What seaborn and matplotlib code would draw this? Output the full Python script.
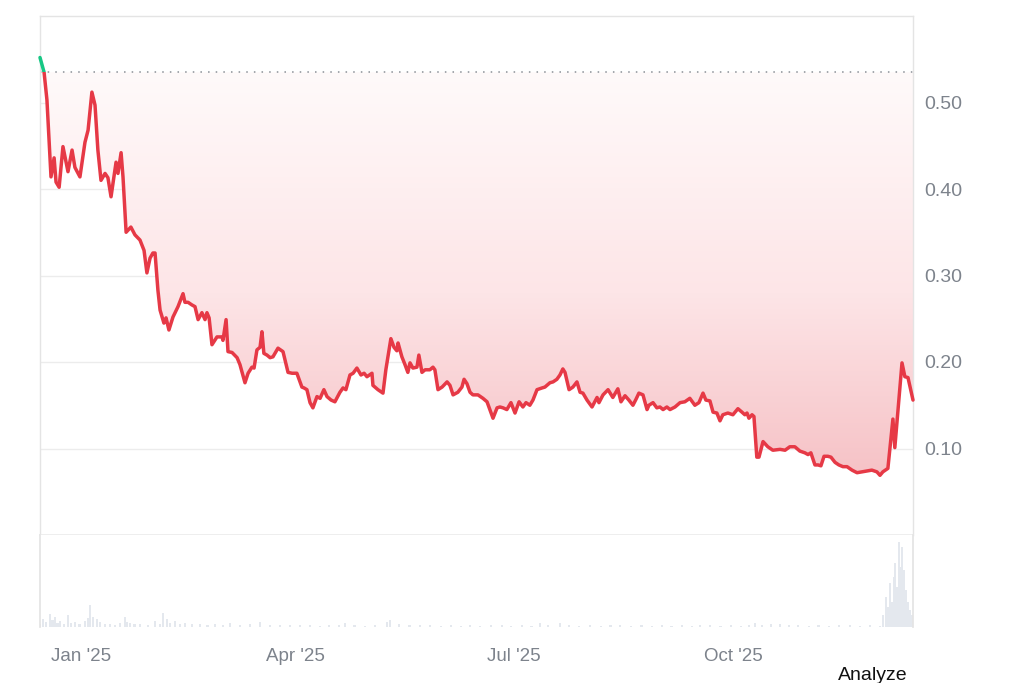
import numpy as np
import pandas as pd
import matplotlib
import matplotlib.pyplot as plt
import matplotlib.dates as mdates
from matplotlib.colors import LinearSegmentedColormap
from matplotlib.patches import Rectangle
import seaborn as sns

matplotlib.use('Agg')

# price line (days after 2024-12-15, USD)
day = [0.0, 1.7, 2.9, 4.6, 5.9, 6.7, 8.0, 9.6, 11.7, 13.4, 14.6, 16.7, 18.8, 20.1, 21.7, 23.0,
       24.2, 25.5, 27.2, 28.4, 29.7, 31.8, 32.6, 33.9, 34.7, 36.0, 38.0, 39.7, 41.8, 43.5, 44.7,
       46.0, 47.2, 48.1, 49.3, 50.2, 51.8, 52.7, 53.9, 55.6, 57.7, 59.8, 60.6, 61.9, 63.5, 64.8,
       66.1, 67.7, 69.0, 69.8, 70.7, 71.9, 74.0, 76.1, 76.5, 77.8, 78.6, 80.3, 82.4, 83.6, 85.7,
       87.0, 88.6, 89.5, 90.7, 92.0, 92.8, 93.6, 94.9, 96.2, 97.4, 99.5, 101.6, 103.7, 105.4,
       107.4, 109.5, 110.4, 111.6, 112.9, 114.1, 115.8, 117.1, 118.7, 120.0, 121.7, 123.3, 125.4,
       126.7, 127.9, 129.6, 130.9, 132.5, 134.2, 135.5, 136.7, 138.8, 139.2, 141.3, 143.4, 144.6,
       146.7, 148.0, 149.2, 149.7, 151.3, 152.6, 153.8, 154.7, 155.9, 157.6, 158.4, 159.7, 161.0,
       163.0, 164.3, 165.1, 166.4, 168.1, 170.2, 171.4, 172.7, 174.7, 176.4, 177.3, 178.5, 179.8,
       181.0, 183.1, 185.2, 186.9, 188.1, 189.4, 191.1, 192.3, 193.6, 195.2, 196.9, 198.6, 200.3,
       201.9, 203.2, 204.8, 206.1, 207.8, 209.9, 211.1, 213.2, 214.5, 216.1, 217.4, 218.6, 219.5,
       221.2, 222.8, 224.5, 225.8, 227.0, 228.7, 230.8, 232.9, 233.7, 235.4, 237.5, 239.5, 241.6,
       242.9, 244.6, 246.2, 247.9, 249.2, 250.4, 252.1, 253.8, 254.6, 256.3, 257.9, 259.2, 260.5,
       262.1, 263.4, 265.5, 267.6, 269.6, 271.7, 273.8, 275.5, 277.2, 278.4, 280.1, 281.4, 283.0,
       284.3, 285.5, 287.6, 289.7, 291.8, 293.5, 294.7, 295.6, 296.4, 297.7, 298.5, 299.7, 300.6,
       302.3, 304.3, 306.4, 309.4, 311.5, 313.5, 315.6, 317.7, 319.8, 321.1, 322.3, 324.0, 325.3,
       326.5, 327.8, 329.4, 330.7, 332.4, 334.0, 335.7, 337.4, 339.5, 341.6, 343.6, 345.7, 347.8,
       349.9, 351.2, 352.4, 354.5, 356.6, 357.4, 360.4, 361.6, 362.9, 365.0]
price = [0.552, 0.535, 0.503, 0.414, 0.436, 0.408, 0.402, 0.449, 0.420, 0.445, 0.425, 0.414, 0.454,
         0.468, 0.512, 0.497, 0.445, 0.410, 0.418, 0.413, 0.391, 0.431, 0.418, 0.442, 0.414, 0.350,
         0.356, 0.347, 0.341, 0.329, 0.303, 0.320, 0.326, 0.326, 0.283, 0.260, 0.245, 0.251, 0.237,
         0.252, 0.264, 0.279, 0.269, 0.269, 0.266, 0.264, 0.249, 0.257, 0.249, 0.257, 0.251, 0.220,
         0.229, 0.229, 0.225, 0.249, 0.212, 0.211, 0.205, 0.197, 0.176, 0.187, 0.194, 0.193, 0.214,
         0.217, 0.235, 0.210, 0.208, 0.205, 0.206, 0.216, 0.212, 0.188, 0.187, 0.187, 0.171, 0.170,
         0.168, 0.153, 0.147, 0.160, 0.158, 0.168, 0.160, 0.156, 0.154, 0.165, 0.170, 0.168, 0.185,
         0.187, 0.193, 0.185, 0.187, 0.183, 0.187, 0.173, 0.168, 0.164, 0.191, 0.227, 0.217, 0.213,
         0.222, 0.206, 0.197, 0.188, 0.199, 0.193, 0.194, 0.208, 0.188, 0.191, 0.191, 0.194, 0.191,
         0.168, 0.171, 0.177, 0.173, 0.162, 0.165, 0.171, 0.180, 0.175, 0.165, 0.162, 0.162, 0.158,
         0.154, 0.145, 0.135, 0.147, 0.148, 0.147, 0.145, 0.153, 0.141, 0.154, 0.148, 0.153, 0.150,
         0.156, 0.168, 0.170, 0.171, 0.176, 0.177, 0.180, 0.185, 0.192, 0.188, 0.168, 0.171, 0.177,
         0.165, 0.164, 0.156, 0.148, 0.159, 0.153, 0.162, 0.168, 0.159, 0.169, 0.154, 0.161, 0.156,
         0.150, 0.157, 0.164, 0.162, 0.145, 0.150, 0.153, 0.147, 0.148, 0.145, 0.148, 0.145, 0.148,
         0.153, 0.154, 0.158, 0.150, 0.153, 0.164, 0.156, 0.155, 0.142, 0.141, 0.132, 0.139, 0.141,
         0.139, 0.146, 0.142, 0.139, 0.141, 0.135, 0.139, 0.137, 0.090, 0.090, 0.108, 0.102, 0.098,
         0.099, 0.098, 0.102, 0.102, 0.097, 0.095, 0.093, 0.095, 0.081, 0.081, 0.080, 0.091, 0.091,
         0.090, 0.084, 0.081, 0.079, 0.079, 0.075, 0.072, 0.073, 0.074, 0.075, 0.073, 0.069, 0.073,
         0.077, 0.134, 0.101, 0.199, 0.183, 0.182, 0.156]

# trading volume (relative units)
vol_day = [0, 1.3, 2.5, 4.2, 5.2, 6.3, 7.3, 8.4, 10.0, 11.7, 13.0, 14.6, 16.5, 18.8, 20.0, 20.9,
           22.2, 23.8, 25.1, 27.0, 29.3, 31.5, 33.4, 35.5, 36.5, 37.6, 39.5, 41.8, 45.0, 48.1,
           50.0, 51.4, 53.1, 54.5, 56.4, 58.5, 60.6, 63.5, 66.9, 70.0, 73.2, 76.5, 79.4, 83.5,
           87.8, 92.0, 96.0, 100.5, 104.5, 108.7, 113.0, 117.0, 121.0, 125.0, 127.5, 131.5, 136.0,
           140.0, 145.0, 146.5, 150.0, 154.5, 159.0, 163.0, 167.5, 172.0, 176.0, 179.8, 184.0,
           188.5, 193.0, 197.0, 201.5, 205.5, 209.0, 212.5, 217.4, 221.0, 225.5, 230.0, 234.5,
           238.5, 242.5, 247.0, 251.5, 256.0, 260.0, 264.0, 268.5, 272.5, 275.9, 280.0, 284.5,
           289.0, 293.0, 296.5, 298.9, 302.0, 305.5, 309.4, 313.0, 317.0, 321.5, 325.5, 330.0,
           334.0, 338.7, 343.0, 347.0, 351.2, 352.4, 353.7, 354.5, 355.4, 356.2, 357.0, 357.4,
           358.3, 359.1, 359.9, 360.4, 361.2, 362.1, 362.9, 363.7, 364.6]
vol = [3, 8, 5, 13, 7, 10, 4, 6, 3, 12, 4, 5, 3, 6, 9, 22, 10, 8, 5, 3, 3, 2, 4, 10, 5, 4, 3, 3,
       2, 6, 3, 14, 8, 4, 6, 3, 4, 3, 3, 2, 3, 2, 4, 2, 3, 5, 2, 2, 2, 2, 2, 1, 2, 2, 4, 2, 1, 2,
       5, 7, 3, 2, 2, 2, 1, 2, 1, 2, 1, 2, 2, 1, 2, 1, 4, 2, 4, 2, 1, 2, 1, 2, 2, 1, 2, 1, 2, 1,
       2, 1, 2, 2, 1, 2, 1, 2, 4, 2, 3, 3, 2, 2, 1, 2, 1, 2, 2, 1, 2, 1, 12, 30, 20, 44, 25, 50,
       64, 40, 85, 60, 80, 57, 37, 25, 17, 12]

y_ticks = [0.10, 0.20, 0.30, 0.40, 0.50]
x_ticks = ['2025-01-01', '2025-04-01', '2025-07-01', '2025-10-01']
x_tick_labels = ["Jan '25", "Apr '25", "Jul '25", "Oct '25"]

start = pd.Timestamp('2024-12-15')
df = pd.DataFrame({'date': start + pd.to_timedelta(day, unit='D'), 'price': price})
vdf = pd.DataFrame({'date': start + pd.to_timedelta(vol_day, unit='D'), 'vol': vol})
base = df['price'].iloc[0] - 0.017   # opening reference level (dotted line)

sns.set_theme(style='white')
plt.rcParams['font.family'] = ['Liberation Sans', 'DejaVu Sans']

RED = '#e63946'
GREEN = '#16c784'
GRID = '#ececec'
TXT = '#7d838c'

fig = plt.figure(figsize=(10.24, 6.83), dpi=100)
ax = fig.add_axes([40 / 1024, 1 - 535 / 683, 873 / 1024, 519 / 683])
axv = fig.add_axes([40 / 1024, 1 - 627 / 683, 873 / 1024, 92 / 683], sharex=ax)

x0, x1 = start, start + pd.Timedelta(days=365)

# gradient fill between the line and the reference level
xs = mdates.date2num(df['date'])
ys = np.minimum(df['price'].values, base)
poly = ax.fill_between(xs, ys, base, color='none', lw=0)
cmap = LinearSegmentedColormap.from_list(
    'fade', [(0, '#f6c2c6'), (0.45, '#fde5e7'), (1, '#fffafa')])
grad = np.linspace(0, 1, 256).reshape(-1, 1)
im = ax.imshow(grad, cmap=cmap, origin='lower', aspect='auto',
               extent=[xs[0], xs[-1], min(price), base], zorder=1)
im.set_clip_path(poly.get_paths()[0], ax.transData)

ax.axhline(base, color='#8a8f96', lw=1.1, ls=(0, (1, 4)), zorder=2)

# price line: red below the reference level, green above
sns.lineplot(data=df, x='date', y='price', ax=ax, color=RED, lw=2.5, zorder=3)
red_line = ax.lines[-1]
red_line.set_clip_path(Rectangle((xs[0] - 5, 0), 400, base, transform=ax.transData))
sns.lineplot(data=df, x='date', y='price', ax=ax, color=GREEN, lw=2.5, zorder=4)
green_line = ax.lines[-1]
green_line.set_clip_path(Rectangle((xs[0] - 5, base), 400, 1, transform=ax.transData))

ax.set_xlim(x0, x1)
ax.set_ylim(0, 0.6)
ax.set_yticks(y_ticks)
ax.set_yticklabels([f'{v:.2f}' for v in y_ticks])
ax.yaxis.tick_right()
ax.tick_params(axis='y', length=0, pad=8, labelsize=14, labelcolor=TXT)
ax.tick_params(axis='x', bottom=False, labelbottom=False)
ax.grid(axis='y', color=GRID, lw=1)
ax.set_xlabel('')
ax.set_ylabel('')
for side in ['top', 'left', 'right']:
    ax.spines[side].set_color('#e4e4e4')
    ax.spines[side].set_linewidth(1)
ax.spines['bottom'].set_color(GRID)

# volume panel
axv.bar(vdf['date'], vdf['vol'], width=0.9, color='#e4e8ee', lw=0)
axv.set_ylim(0, 92)
axv.set_yticks([])
axv.set_xticks(pd.to_datetime(x_ticks))
axv.set_xticklabels(x_tick_labels)
axv.tick_params(axis='x', length=0, pad=15, labelsize=13.5, labelcolor=TXT)
axv.set_xlabel('')
axv.set_ylabel('')
axv.set_xlim(x0, x1)
for side in ['left', 'right']:
    axv.spines[side].set_color('#e4e4e4')
axv.spines['top'].set_visible(False)
axv.spines['bottom'].set_visible(False)

fig.text(838 / 1024, 1 - 675 / 683, 'Analyze', fontsize=14, color='#111111',
         ha='left', va='center')

fig.savefig('out.png', dpi=100, facecolor='white')
